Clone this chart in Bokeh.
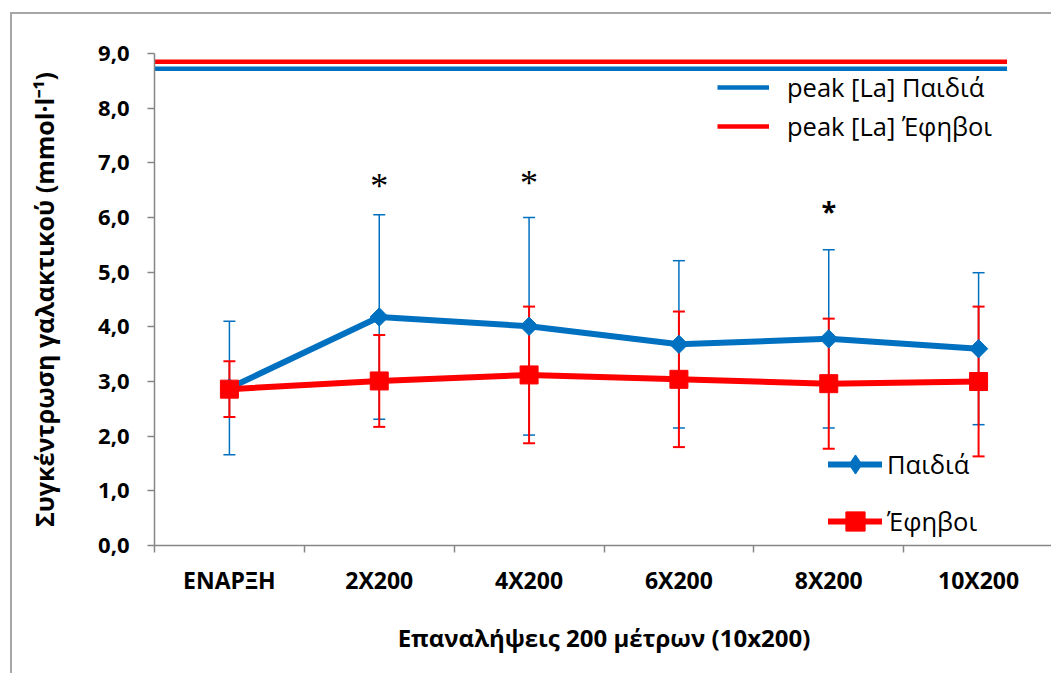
from bokeh.plotting import figure
from bokeh.models import (ColumnDataSource, Whisker, TeeHead, Legend, LegendItem,
                          FixedTicker, Range1d)
from bokeh.core.properties import value
from bokeh.embed import file_html
from bokeh.resources import INLINE
import math

# ---------------- data ----------------
categories = ["ΕΝΑΡΞΗ", "2X200", "4X200", "6X200", "8X200", "10X200"]
children_mean = [2.88, 4.18, 4.01, 3.68, 3.78, 3.60]
children_sd = [1.22, 1.87, 1.99, 1.53, 1.63, 1.39]
teens_mean = [2.86, 3.01, 3.12, 3.04, 2.96, 3.00]
teens_sd = [0.51, 0.84, 1.25, 1.24, 1.19, 1.37]
peak_children = 8.72
peak_teens = 8.85
peak_span = [0.0, 5.69]
series_names = ["Παιδιά", "Έφηβοι"]
peak_names = ["peak [La] Παιδιά", "peak [La] Έφηβοι"]
star_categories = ["2X200", "4X200", "8X200"]
star_levels = [6.58, 6.63, 6.13]
y_ticks = [0, 1, 2, 3, 4, 5, 6, 7, 8, 9]
y_tick_labels = ["0,0", "1,0", "2,0", "3,0", "4,0", "5,0", "6,0", "7,0", "8,0", "9,0"]
x_title = "Επαναλήψεις 200 μέτρων (10x200)"
y_title = "Συγκέντρωση γαλακτικού (mmol·l⁻¹)"

FONT = "Open Sans"
BLUE = "#0070C0"
RED = "#FF0000"
GRAY = "#868686"

xpos = [i + 0.5 for i in range(len(categories))]
cat_x = dict(zip(categories, xpos))

src_c = ColumnDataSource(dict(x=xpos, y=children_mean,
                              upper=[m + s for m, s in zip(children_mean, children_sd)],
                              lower=[m - s for m, s in zip(children_mean, children_sd)]))
src_t = ColumnDataSource(dict(x=xpos, y=teens_mean,
                              upper=[m + s for m, s in zip(teens_mean, teens_sd)],
                              lower=[m - s for m, s in zip(teens_mean, teens_sd)]))

p = figure(width=1041, height=661, x_range=Range1d(0, len(categories)), y_range=Range1d(0, 9),
           output_backend="svg", toolbar_location=None,
           min_border_left=142, min_border_right=0, min_border_top=39, min_border_bottom=130)
p.styles = {"margin-left": "10px", "margin-top": "12px",
            "border-left": "2px solid #a6a6a6", "border-top": "2px solid #a6a6a6"}
p.outline_line_color = None
p.xgrid.grid_line_color = None
p.ygrid.grid_line_color = None
p.background_fill_color = "white"
p.border_fill_color = "white"

# ---------------- axes ----------------
xa = p.xaxis[0]
xa.ticker = FixedTicker(ticks=xpos, minor_ticks=list(range(len(categories) + 1)))
xa.major_label_overrides = {x: c for x, c in zip(xpos, categories)}
xa.major_tick_line_color = None
xa.major_tick_out = 7
xa.minor_tick_line_color = GRAY
xa.minor_tick_line_width = 1.5
xa.minor_tick_out = 7
xa.minor_tick_in = 0
xa.axis_line_color = GRAY
xa.axis_line_width = 1.5
xa.major_label_text_font = FONT
xa.major_label_text_font_style = "bold"
xa.major_label_text_font_size = "23px"
xa.major_label_text_color = "black"
xa.major_label_standoff = 11
xa.axis_label = x_title
xa.axis_label_text_font = FONT
xa.axis_label_text_font_style = "bold"
xa.axis_label_text_font_size = "24px"
xa.axis_label_text_color = "black"
xa.axis_label_standoff = 22

ya = p.yaxis[0]
ya.ticker = FixedTicker(ticks=y_ticks, minor_ticks=[])
ya.major_label_overrides = {t: l for t, l in zip(y_ticks, y_tick_labels)}
ya.major_tick_line_color = GRAY
ya.major_tick_line_width = 1.5
ya.major_tick_out = 7
ya.major_tick_in = 0
ya.minor_tick_line_color = None
ya.axis_line_color = GRAY
ya.axis_line_width = 1.5
ya.major_label_text_font = FONT
ya.major_label_text_font_style = "bold"
ya.major_label_text_font_size = "22px"
ya.major_label_text_color = "black"
ya.major_label_standoff = 18
ya.axis_label = y_title
ya.axis_label_text_font = FONT
ya.axis_label_text_font_style = "bold"
ya.axis_label_text_font_size = "25px"
ya.axis_label_text_color = "black"
ya.axis_label_standoff = 34

# ---------------- error bars ----------------
w_c = Whisker(source=src_c, base="x", upper="upper", lower="lower", level="underlay",
              line_color=BLUE, line_width=1.5,
              upper_head=TeeHead(size=12, line_color=BLUE, line_width=1.5),
              lower_head=TeeHead(size=12, line_color=BLUE, line_width=1.5))
w_t = Whisker(source=src_t, base="x", upper="upper", lower="lower", level="underlay",
              line_color=RED, line_width=2,
              upper_head=TeeHead(size=12, line_color=RED, line_width=2),
              lower_head=TeeHead(size=12, line_color=RED, line_width=2))
p.add_layout(w_c)
p.add_layout(w_t)

# ---------------- peak lines ----------------
pk_c = p.line(peak_span, [peak_children] * 2, line_color=BLUE, line_width=4.5)
pk_t = p.line(peak_span, [peak_teens] * 2, line_color=RED, line_width=4.5)

# ---------------- series ----------------
ln_c = p.line("x", "y", source=src_c, line_color=BLUE, line_width=6, line_cap="round", line_join="round")
mk_c = p.scatter("x", "y", source=src_c, marker="square", angle=math.pi / 4, size=13,
                 fill_color=BLUE, line_color=BLUE)
# diamond glyph used only for the legend swatch
mk_c_leg = p.scatter("x", "y", source=src_c, marker="diamond", size=13,
                     fill_color=BLUE, line_color=BLUE, visible=False)
ln_t = p.line("x", "y", source=src_t, line_color=RED, line_width=6, line_cap="round", line_join="round")
mk_t = p.scatter("x", "y", source=src_t, marker="square", size=18,
                 fill_color=RED, line_color=RED)

# ---------------- asterisks ----------------
star_src_serif = ColumnDataSource(dict(x=[cat_x[c] for c in star_categories[:2]],
                                       y=star_levels[:2], t=["*", "*"]))
star_src_bold = ColumnDataSource(dict(x=[cat_x[star_categories[2]]],
                                      y=[star_levels[2]], t=["*"]))
p.text("x", "y", text="t", source=star_src_serif, text_font=value("Liberation Serif"),
       text_font_size="36px", text_align="center", text_baseline="middle", text_color="black")
p.text("x", "y", text="t", source=star_src_bold, text_font=value(FONT), text_font_style="bold",
       text_font_size="27px", text_align="center", text_baseline="middle", text_color="black")

# ---------------- legends ----------------
leg_peak = Legend(items=[LegendItem(label=peak_names[0], renderers=[pk_c]),
                         LegendItem(label=peak_names[1], renderers=[pk_t])],
                  location=(563, 402), orientation="vertical", padding=0, margin=0,
                  border_line_color=None, background_fill_alpha=0,
                  label_text_font=FONT, label_text_font_size="25.5px", label_text_color="black",
                  glyph_width=52, glyph_height=34, label_height=34, spacing=5, label_standoff=18)
leg_series = Legend(items=[LegendItem(label=series_names[0], renderers=[ln_c, mk_c_leg]),
                           LegendItem(label=series_names[1], renderers=[ln_t, mk_t])],
                    location=(674, 0), orientation="vertical", padding=0, margin=0,
                    border_line_color=None, background_fill_alpha=0,
                    label_text_font=FONT, label_text_font_size="25.5px", label_text_color="black",
                    glyph_width=54, glyph_height=48, label_height=48, spacing=9, label_standoff=5)
p.add_layout(leg_peak)
p.add_layout(leg_series)

open("out.html", "w").write(file_html(p, INLINE))
